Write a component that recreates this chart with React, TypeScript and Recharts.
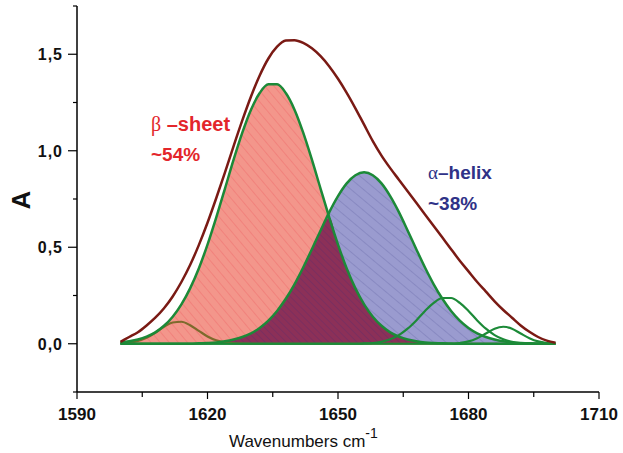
import React from "react";
import { ComposedChart, Area, Line, XAxis, YAxis } from "recharts";

const wavenumbers = [
  1600, 1602, 1604, 1606, 1608, 1610, 1612, 1614, 1616, 1618,
  1620, 1622, 1624, 1626, 1628, 1630, 1632, 1634, 1636, 1638,
  1640, 1642, 1644, 1646, 1648, 1650, 1652, 1654, 1656, 1658,
  1660, 1662, 1664, 1666, 1668, 1670, 1672, 1674, 1676, 1678,
  1680, 1682, 1684, 1686, 1688, 1690, 1692, 1694, 1696, 1698, 1700,
];

const envelope = [
  0.01, 0.035, 0.06, 0.095, 0.135, 0.184, 0.245, 0.32, 0.408, 0.511,
  0.627, 0.754, 0.887, 1.024, 1.157, 1.281, 1.39, 1.478, 1.539, 1.571,
  1.573, 1.559, 1.531, 1.49, 1.437, 1.373, 1.3, 1.22, 1.135, 1.05,
  0.975, 0.91, 0.85, 0.79, 0.73, 0.67, 0.61, 0.55, 0.49, 0.43,
  0.375, 0.32, 0.27, 0.22, 0.175, 0.135, 0.095, 0.062, 0.035, 0.016, 0.005,
];

const betaSheet = [
  0.007, 0.013, 0.022, 0.037, 0.059, 0.093, 0.14, 0.204, 0.287, 0.39,
  0.514, 0.654, 0.803, 0.954, 1.094, 1.213, 1.299, 1.344, 1.344, 1.299,
  1.213, 1.094, 0.954, 0.803, 0.654, 0.514, 0.39, 0.287, 0.204, 0.14,
  0.093, 0.059, 0.037, 0.022, 0.013, 0.007, 0.004, 0.002, 0.001, 0,
  0, 0, 0, 0, 0, 0, 0, 0, 0, 0, 0,
];

const alphaHelix = [
  0, 0, 0, 0, 0, 0, 0, 0, 0, 0.002,
  0.004, 0.007, 0.013, 0.022, 0.035, 0.054, 0.082, 0.12, 0.17, 0.233,
  0.308, 0.395, 0.49, 0.587, 0.682, 0.765, 0.831, 0.873, 0.888, 0.873,
  0.831, 0.765, 0.682, 0.587, 0.49, 0.395, 0.308, 0.233, 0.17, 0.12,
  0.082, 0.054, 0.035, 0.022, 0.013, 0.007, 0.004, 0.002, 0.001, 0, 0,
];

const band1613 = [
  0.0015, 0.005, 0.014, 0.031, 0.057, 0.088, 0.11, 0.114, 0.096, 0.067,
  0.038, 0.018, 0.007, 0.002, 0.001, 0, 0, 0, 0, 0,
  0, 0, 0, 0, 0, 0, 0, 0, 0, 0,
  0, 0, 0, 0, 0, 0, 0, 0, 0, 0,
  0, 0, 0, 0, 0, 0, 0, 0, 0, 0, 0,
];

const band1675 = [
  0, 0, 0, 0, 0, 0, 0, 0, 0, 0,
  0, 0, 0, 0, 0, 0, 0, 0, 0, 0,
  0, 0, 0, 0, 0, 0, 0, 0, 0.0016, 0.004,
  0.0105, 0.023, 0.045, 0.078, 0.121, 0.17, 0.212, 0.237, 0.237, 0.212,
  0.17, 0.121, 0.078, 0.045, 0.023, 0.0105, 0.004, 0.0015, 0, 0, 0,
];

const band1688 = [
  0, 0, 0, 0, 0, 0, 0, 0, 0, 0,
  0, 0, 0, 0, 0, 0, 0, 0, 0, 0,
  0, 0, 0, 0, 0, 0, 0, 0, 0, 0,
  0, 0, 0, 0, 0, 0, 0, 0, 0, 0.004,
  0.012, 0.029, 0.053, 0.078, 0.088, 0.078, 0.053, 0.029, 0.012, 0.004, 0.001,
];

const xTicks = [1590, 1605, 1620, 1635, 1650, 1665, 1680, 1695, 1710];
const xMajor = [1590, 1620, 1650, 1680, 1710];
const yTicks = [-0.25, 0, 0.25, 0.5, 0.75, 1, 1.25, 1.5, 1.75];
const yMajor = [0, 0.5, 1, 1.5];

const data = wavenumbers.map((w, i) => ({
  w,
  env: envelope[i],
  beta: betaSheet[i],
  alpha: alphaHelix[i],
  overlap: Math.min(betaSheet[i], alphaHelix[i]),
  b1613: band1613[i],
  b1675: band1675[i],
  b1688: band1688[i],
}));

const FONT = "'Liberation Sans', Arial, sans-serif";
const GREEN = "#1c8a38";
const BROWN = "#7a1a14";

const XTick = (props: any) => {
  const { x, y, payload } = props;
  const major = xMajor.includes(payload.value);
  return (
    <g>
      <line x1={x} x2={x} y1={y} y2={y + (major ? 7 : 5)} stroke="#000" strokeWidth={1.2} />
      {major && (
        <text x={x} y={y + 28} textAnchor="middle" fontFamily={FONT} fontWeight="bold" fontSize={17} fill="#111">
          {payload.value}
        </text>
      )}
    </g>
  );
};

const YTick = (props: any) => {
  const { x, y, payload } = props;
  const major = yMajor.includes(payload.value);
  return (
    <g>
      <line x1={x - (major ? 9 : 4)} x2={x} y1={y} y2={y} stroke="#000" strokeWidth={1.2} />
      {major && (
        <text x={x - 14} y={y + 6} textAnchor="end" fontFamily={FONT} fontWeight="bold" fontSize={16} letterSpacing={1} fill="#111">
          {payload.value.toFixed(1).replace(".", ",")}
        </text>
      )}
    </g>
  );
};

export default function App() {
  return (
    <div style={{ position: "absolute", left: 0, top: 0, width: 623, height: 453, background: "#fff" }}>
      <ComposedChart width={623} height={453} data={data} margin={{ top: 6, right: 24, bottom: 0, left: 0 }}>
        <defs>
          <pattern id="betaPat" patternUnits="userSpaceOnUse" width="7" height="7" patternTransform="rotate(-40)">
            <rect width="7" height="7" fill="#f3968b" />
            <line x1="0" y1="0" x2="0" y2="7" stroke="#e8404a" strokeWidth="0.8" opacity="0.6" />
          </pattern>
          <pattern id="alphaPat" patternUnits="userSpaceOnUse" width="8" height="8" patternTransform="rotate(-50)">
            <rect width="8" height="8" fill="#9a9bcf" />
            <line x1="0" y1="0" x2="0" y2="8" stroke="#3c3c82" strokeWidth="0.7" opacity="0.55" />
          </pattern>
          <pattern id="overPat" patternUnits="userSpaceOnUse" width="5" height="5" patternTransform="rotate(-45)">
            <rect width="5" height="5" fill="#8c3058" />
            <line x1="0" y1="0" x2="0" y2="5" stroke="#4e2a72" strokeWidth="0.9" opacity="0.6" />
          </pattern>
        </defs>
        <XAxis
          dataKey="w"
          type="number"
          domain={[1590, 1710]}
          ticks={xTicks}
          interval={0}
          height={61}
          tickSize={0}
          tickMargin={0}
          tick={<XTick />}
          tickLine={false}
          axisLine={{ stroke: "#000", strokeWidth: 1.5 }}
          allowDataOverflow
        />
        <YAxis
          type="number"
          domain={[-0.25, 1.75]}
          ticks={yTicks}
          interval={0}
          width={77}
          tickSize={0}
          tickMargin={0}
          tick={<YTick />}
          tickLine={false}
          axisLine={{ stroke: "#000", strokeWidth: 1.5 }}
          allowDataOverflow
        />
        <Area type="monotone" dataKey="beta" baseValue={0} fill="url(#betaPat)" fillOpacity={1} stroke="none" isAnimationActive={false} />
        <Area type="monotone" dataKey="alpha" baseValue={0} fill="url(#alphaPat)" fillOpacity={1} stroke="none" isAnimationActive={false} />
        <Area type="monotone" dataKey="overlap" baseValue={0} fill="url(#overPat)" fillOpacity={1} stroke="none" isAnimationActive={false} />
        <Line type="monotone" dataKey="b1613" stroke="#7d6a2c" strokeWidth={2.2} dot={false} isAnimationActive={false} />
        <Line type="monotone" dataKey="b1675" stroke={GREEN} strokeWidth={2.2} dot={false} isAnimationActive={false} />
        <Line type="monotone" dataKey="b1688" stroke={GREEN} strokeWidth={2.2} dot={false} isAnimationActive={false} />
        <Line type="monotone" dataKey="alpha" stroke={GREEN} strokeWidth={2.5} dot={false} isAnimationActive={false} />
        <Line type="monotone" dataKey="beta" stroke={GREEN} strokeWidth={2.5} dot={false} isAnimationActive={false} />
        <Line type="monotone" dataKey="env" stroke={BROWN} strokeWidth={2.5} dot={false} isAnimationActive={false} />
      </ComposedChart>

      <div style={{ position: "absolute", left: 7, top: 186, width: 28, height: 28, display: "flex", alignItems: "center", justifyContent: "center", transform: "rotate(-90deg)", fontFamily: FONT, fontWeight: "bold", fontSize: 26, color: "#111" }}>
        A
      </div>
      <div style={{ position: "absolute", left: 229, top: 427, fontFamily: FONT, fontSize: 17, color: "#111", whiteSpace: "nowrap" }}>
        Wavenumbers cm<sup style={{ fontSize: 14, position: "relative", top: -2 }}>-1</sup>
      </div>
      <div style={{ position: "absolute", left: 151, top: 113, fontFamily: FONT, fontWeight: "bold", fontSize: 20, color: "#e3262b", whiteSpace: "nowrap" }}>
        <span style={{ fontFamily: "'Liberation Serif', serif", fontWeight: "normal" }}>β</span> –sheet
      </div>
      <div style={{ position: "absolute", left: 151, top: 144, fontFamily: FONT, fontWeight: "bold", fontSize: 19, color: "#e3262b", whiteSpace: "nowrap" }}>
        ~54%
      </div>
      <div style={{ position: "absolute", left: 428, top: 162, fontFamily: FONT, fontWeight: "bold", fontSize: 19, color: "#2f3287", whiteSpace: "nowrap" }}>
        <span style={{ fontFamily: "'Liberation Serif', serif", fontWeight: "normal" }}>α</span>–helix
      </div>
      <div style={{ position: "absolute", left: 428, top: 193, fontFamily: FONT, fontWeight: "bold", fontSize: 19, color: "#2f3287", whiteSpace: "nowrap" }}>
        ~38%
      </div>
    </div>
  );
}
